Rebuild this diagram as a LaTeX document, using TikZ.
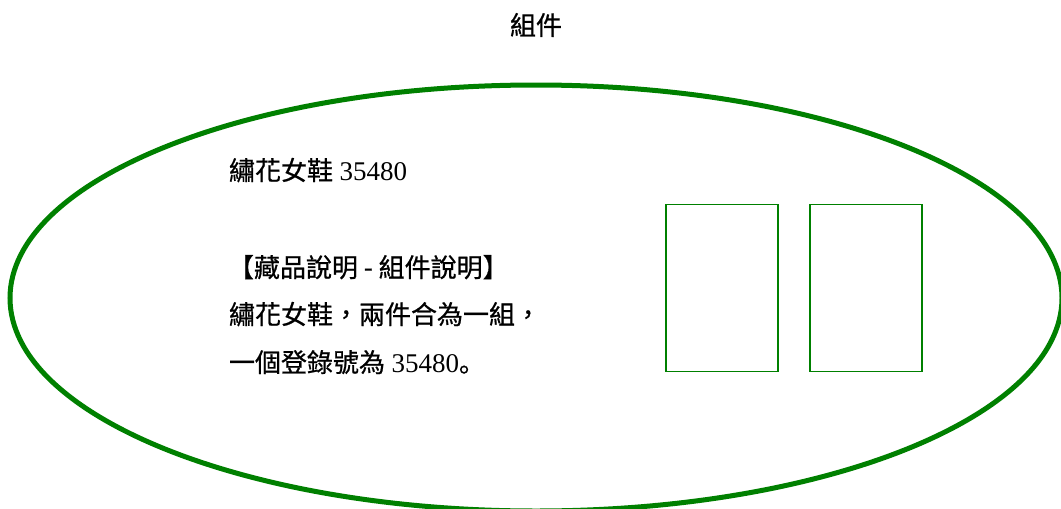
\documentclass[tikz,border=0pt]{standalone}
\usepackage{fontspec}
\setmainfont{Liberation Serif}
\newfontfamily\cjk[FakeBold=0.7]{Noto Sans CJK TC}
\newfontfamily\cjksc[FakeBold=0.7]{Noto Sans CJK SC}
\usetikzlibrary{shapes.geometric}
\definecolor{grn}{HTML}{008000}
\begin{document}
\begin{tikzpicture}[x=1pt,y=-1pt,
  every node/.style={inner sep=0pt, outer sep=0pt},
  group/.style={ellipse, draw=grn, line width=5pt, minimum width=1052pt, minimum height=426pt},
  part/.style={rectangle, draw=grn, line width=1.8pt, minimum width=112pt, minimum height=167pt},
  txt/.style={anchor=base west, font=\fontsize{26}{30}\selectfont},
  ttl/.style={font=\fontsize{26}{30}\selectfont\cjk}]
\useasboundingbox (0,0) rectangle (1061,509);
\node[ttl] (title) at (536,25) {組件};
\node[group] (grp) at (536,298) {};
\node[part] (p1) at (722,288) {};
\node[part] (p2) at (866,288) {};
\node[txt] (name) at (229,180) {{\cjk 繡花女鞋} {\fontsize{27}{30}\selectfont 35480}};
\node[txt] (l1) at (228,277) {{\cjk 【藏品說明 - 組件說明】}};
\node[txt] (l2) at (229,324) {{\cjk 繡花女鞋，兩件合為一組，}};
\node[txt] (l3) at (229,372) {{\cjk 一個登錄號為} {\fontsize{27}{30}\selectfont 35480}{\cjksc 。}};
\end{tikzpicture}
\end{document}
